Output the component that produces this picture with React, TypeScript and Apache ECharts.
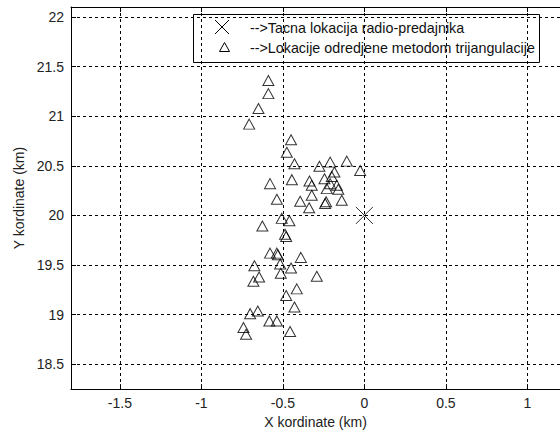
import React, { useEffect, useRef } from "react";
import * as echarts from "echarts";

const xTicks = [-1.5, -1, -0.5, 0, 0.5, 1];
const yTicks = [18.5, 19, 19.5, 20, 20.5, 21, 21.5, 22];

const trueX = [0];
const trueY = [20];

const estX = [
  -0.589, -0.589, -0.65, -0.707, -0.45, -0.476, -0.429, -0.276, -0.21, -0.108,
  -0.026, -0.184, -0.2, -0.245, -0.579, -0.445, -0.337, -0.323, -0.21, -0.169,
  -0.231, -0.16, -0.323, -0.537, -0.394, -0.235, -0.241, -0.139, -0.339, -0.507,
  -0.46, -0.626, -0.487, -0.48, -0.579, -0.537, -0.531, -0.39, -0.675, -0.517,
  -0.45, -0.513, -0.292, -0.646, -0.681, -0.415, -0.48, -0.429, -0.654, -0.701,
  -0.583, -0.537, -0.742, -0.726, -0.456,
];
const estY = [
  21.36, 21.227, 21.077, 20.92, 20.763, 20.637, 20.52, 20.495, 20.537, 20.547,
  20.453, 20.437, 20.393, 20.37, 20.32, 20.36, 20.347, 20.303, 20.32, 20.303,
  20.27, 20.263, 20.203, 20.163, 20.143, 20.137, 20.12, 20.153, 20.077, 19.97,
  19.947, 19.893, 19.81, 19.787, 19.62, 19.62, 19.603, 19.577, 19.493, 19.51,
  19.47, 19.417, 19.387, 19.38, 19.337, 19.26, 19.193, 19.077, 19.037, 19.01,
  18.937, 18.937, 18.87, 18.803, 18.83,
];

const legendTexts = [
  "-->Tacna lokacija radio-predajnika",
  "-->Lokacije odredjene metodom trijangulacije",
];
const xName = "X kordinate (km)";
const yName = "Y kordinate (km)";

const FONT = "Liberation Sans, Arial, sans-serif";

export default function App() {
  const ref = useRef<HTMLDivElement>(null);
  useEffect(() => {
    if (!ref.current) return;
    const chart = echarts.init(ref.current, undefined, { renderer: "svg" });
    const gridLine = { show: true, lineStyle: { color: "#000", width: 1, type: [3, 3] } };
    const axisLine = { show: true, onZero: false, lineStyle: { color: "#000", width: 1 } };
    chart.setOption({
      animation: false,
      backgroundColor: "#fff",
      grid: { left: 71, top: 7, right: 0, bottom: 42, containLabel: false },
      xAxis: [
        {
          type: "value",
          min: -1.8,
          max: 1.2,
          position: "bottom",
          axisLine,
          axisTick: { show: true, inside: true, length: 5, customValues: xTicks, lineStyle: { color: "#000" } },
          axisLabel: {
            customValues: xTicks,
            color: "#222",
            fontFamily: FONT,
            fontSize: 14,
            margin: 7,
            formatter: (v: number) => String(v),
          },
          splitLine: gridLine,
          name: xName,
          nameLocation: "middle",
          nameGap: 25,
          nameTextStyle: { color: "#222", fontFamily: FONT, fontSize: 14, verticalAlign: "top" },
        },
        {
          type: "value",
          min: -1.8,
          max: 1.2,
          position: "top",
          axisLine,
          axisTick: { show: true, inside: true, length: 5, customValues: xTicks, lineStyle: { color: "#000" } },
          axisLabel: { show: false },
          splitLine: { show: false },
        },
      ],
      yAxis: [
        {
          type: "value",
          min: 18.25,
          max: 22.1,
          position: "left",
          axisLine,
          axisTick: { show: true, inside: true, length: 5, customValues: yTicks, lineStyle: { color: "#000" } },
          axisLabel: {
            customValues: yTicks,
            color: "#222",
            fontFamily: FONT,
            fontSize: 14,
            margin: 7,
            formatter: (v: number) => String(v),
          },
          splitLine: gridLine,
          name: yName,
          nameLocation: "middle",
          nameGap: 44,
          nameRotate: 90,
          nameTextStyle: { color: "#222", fontFamily: FONT, fontSize: 14 },
        },
      ],
      series: [
        {
          type: "scatter",
          xAxisIndex: 0,
          yAxisIndex: 0,
          data: estX.map((x, i) => [x, estY[i]]),
          symbol: "triangle",
          symbolSize: [11, 10],
          itemStyle: { color: "rgba(0,0,0,0)", borderColor: "#000", borderWidth: 1 },
          z: 3,
        },
        {
          type: "scatter",
          xAxisIndex: 0,
          yAxisIndex: 0,
          data: trueX.map((x, i) => [x, trueY[i]]),
          symbol: "path://M0,0L10,10M10,0L0,10",
          symbolSize: 17,
          itemStyle: { color: "none", borderColor: "#000", borderWidth: 1 },
          z: 4,
        },
      ],
      graphic: [
        {
          type: "group",
          z: 100,
          children: [
            {
              type: "rect",
              shape: { x: 193.5, y: 14.5, width: 346, height: 48 },
              style: { fill: "#fff", stroke: "#000", lineWidth: 1 },
            },
            {
              type: "line",
              shape: { x1: 215, y1: 20, x2: 229, y2: 34 },
              style: { stroke: "#000", lineWidth: 1 },
            },
            {
              type: "line",
              shape: { x1: 229, y1: 20, x2: 215, y2: 34 },
              style: { stroke: "#000", lineWidth: 1 },
            },
            {
              type: "polygon",
              shape: { points: [[224.5, 42.5], [219.5, 51.5], [229.5, 51.5]] },
              style: { fill: "none", stroke: "#000", lineWidth: 1 },
            },
            {
              type: "text",
              x: 250,
              y: 28,
              style: { text: legendTexts[0], fill: "#111", font: `14.3px ${FONT}`, verticalAlign: "middle" },
            },
            {
              type: "text",
              x: 250,
              y: 48,
              style: { text: legendTexts[1], fill: "#111", font: `14.3px ${FONT}`, verticalAlign: "middle" },
            },
          ],
        },
      ],
    });
    return () => chart.dispose();
  }, []);
  return (
    <div
      ref={ref}
      style={{ position: "fixed", left: 0, top: 0, width: 560, height: 434, background: "#fff" }}
    />
  );
}
